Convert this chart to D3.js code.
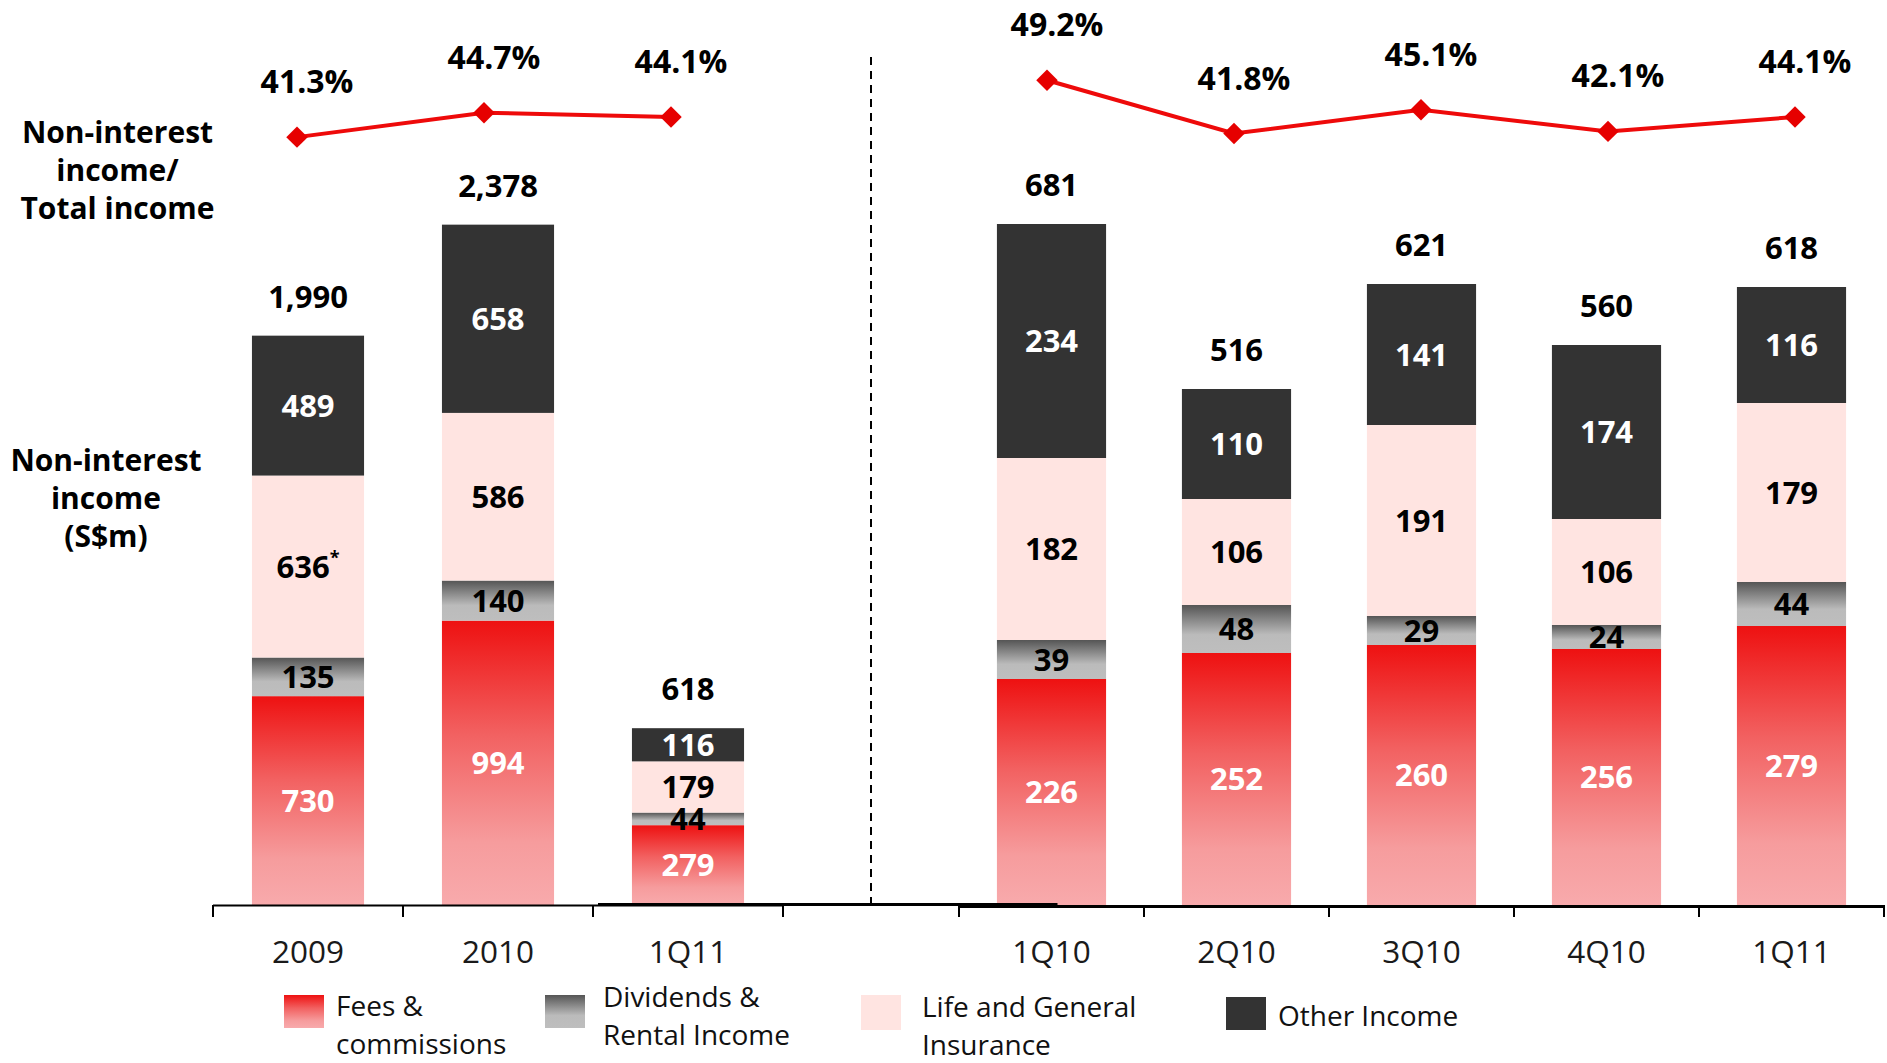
<!DOCTYPE html>
<html><head><meta charset="utf-8">
<script src="https://cdn.jsdelivr.net/npm/d3@7"></script>
<style>
body{margin:0;background:#fff;}
svg{display:block;font-family:"Open Sans","Noto Sans",sans-serif;}
</style></head><body><svg id="c" width="1887" height="1063"></svg>
<script>
// ---------- data ----------
const leftCategories = ["2009", "2010", "1Q11"];
const rightCategories = ["1Q10", "2Q10", "3Q10", "4Q10", "1Q11"];
const seriesNames = ["Fees & commissions", "Dividends & Rental Income", "Life and General Insurance", "Other Income"];
const legendLines = [["Fees &", "commissions"], ["Dividends &", "Rental Income"], ["Life and General", "Insurance"], ["Other Income"]];

const feesLeft = [730, 994, 279];
const dividendsLeft = [135, 140, 44];
const insuranceLeft = [636, 586, 179];
const otherLeft = [489, 658, 116];
const totalsLeft = [1990, 2378, 618];
const ratioLeft = [41.3, 44.7, 44.1];

const feesRight = [226, 252, 260, 256, 279];
const dividendsRight = [39, 48, 29, 24, 44];
const insuranceRight = [182, 106, 191, 106, 179];
const otherRight = [234, 110, 141, 174, 116];
const totalsRight = [681, 516, 621, 560, 618];
const ratioRight = [49.2, 41.8, 45.1, 42.1, 44.1];

const footnoteMarks = { "2009|2": "*" }; // "636*"

// ---------- setup ----------
const svg = d3.select("#c");
const defs = svg.append("defs");
function grad(id, stops) {
  const g = defs.append("linearGradient").attr("id", id).attr("x1", 0).attr("y1", 0).attr("x2", 0).attr("y2", 1);
  stops.forEach(([o, c]) => g.append("stop").attr("offset", o).attr("stop-color", c));
}
grad("gFees", [[0, "#EE1111"], [0.4, "#F26161"], [0.78, "#F69C9D"], [1, "#F8AAAC"]]);
grad("gDiv", [[0, "#555555"], [0.62, "#BBBBBB"], [1, "#BEBEBE"]]);
const fills = ["url(#gFees)", "url(#gDiv)", "#FFE4E1", "#333333"];
const labelColors = ["#ffffff", "#000000", "#000000", "#ffffff"];

const BASE = 905;
const yPct = d3.scaleLinear().domain([40, 50]).range([146.5, 74.5]);
const fmtPct = v => d3.format(".1f")(v) + "%";
const fmtTot = d3.format(",");

function panel(cats, series, totals, ratios, xRange, yMax, yTop, lineRange, axisW, axisY) {
  const x = d3.scaleBand().domain(cats).range(xRange).paddingInner(0.41).paddingOuter(0.205);
  const y = d3.scaleLinear().domain([0, yMax]).range([BASE, yTop]);
  const rows = cats.map((c, i) => { const r = { cat: c }; series.forEach((s, k) => r["s" + k] = s[i]); return r; });
  const keys = series.map((s, k) => "s" + k);
  const stacked = d3.stack().keys(keys)(rows);
  const g = svg.append("g");

  stacked.forEach((layer, k) => {
    g.selectAll(null).data(layer).enter().append("rect")
      .attr("x", d => x(d.data.cat))
      .attr("width", x.bandwidth())
      .attr("y", d => y(d[1]))
      .attr("height", d => y(d[0]) - y(d[1]))
      .attr("fill", fills[k]);
  });
  stacked.forEach((layer, k) => {
    layer.forEach((d, i) => {
      const t = g.append("text")
        .attr("x", x(d.data.cat) + x.bandwidth() / 2)
        .attr("y", (y(d[0]) + y(d[1])) / 2)
        .attr("dy", "0.36em")
        .attr("text-anchor", "middle")
        .attr("font-size", 31).attr("font-weight", 700)
        .attr("fill", labelColors[k]);
      t.append("tspan").text(d.data[keys[k]]);
      const mark = footnoteMarks[d.data.cat + "|" + k];
      if (mark && cats.length === 3) {
        t.append("tspan").attr("font-size", 18).attr("dy", "-0.75em").text(mark);
      }
    });
  });
  // totals
  g.selectAll(null).data(cats).enter().append("text")
    .attr("x", c => x(c) + x.bandwidth() / 2)
    .attr("y", (c, i) => y(totals[i]) - 28)
    .attr("text-anchor", "middle")
    .attr("font-size", 31).attr("font-weight", 700).attr("fill", "#000")
    .text((c, i) => fmtTot(totals[i]));

  // axis
  const [r0, r1] = x.range();
  g.append("line").attr("x1", r0).attr("x2", r1).attr("y1", axisY).attr("y2", axisY)
    .attr("stroke", "#000").attr("stroke-width", axisW);
  d3.range(cats.length + 1).forEach(i => {
    const tx = r0 + i * x.step();
    g.append("line").attr("x1", tx).attr("x2", tx).attr("y1", BASE).attr("y2", BASE + 12)
      .attr("stroke", "#000").attr("stroke-width", 2);
  });
  g.selectAll(null).data(cats).enter().append("text")
    .attr("x", c => x(c) + x.bandwidth() / 2)
    .attr("y", 963)
    .attr("text-anchor", "middle")
    .attr("font-size", 31.5).attr("fill", "#1a1a1a")
    .text(c => c);

  // ratio line
  const xl = d3.scalePoint().domain(cats).range(lineRange);
  const line = d3.line().x((d, i) => xl(cats[i])).y(d => yPct(d));
  g.append("path").attr("d", line(ratios)).attr("fill", "none")
    .attr("stroke", "#EE0A0A").attr("stroke-width", 4);
  const sym = d3.symbol(d3.symbolSquare, 230);
  g.selectAll(null).data(ratios).enter().append("path")
    .attr("d", sym)
    .attr("fill", "#E60000")
    .attr("transform", (d, i) => `translate(${xl(cats[i])},${yPct(d)}) rotate(45)`);
  g.selectAll(null).data(ratios).enter().append("text")
    .attr("x", (d, i) => xl(cats[i]) + 10)
    .attr("y", d => yPct(d) - 44)
    .attr("text-anchor", "middle")
    .attr("font-size", 32).attr("font-weight", 700).attr("fill", "#000")
    .text(d => fmtPct(d));
  return x;
}

const xL = panel(leftCategories, [feesLeft, dividendsLeft, insuranceLeft, otherLeft], totalsLeft, ratioLeft,
  [213, 783], 2500, BASE - 2500 * 0.2861, [297, 671], 2, 905.5);
const xR = panel(rightCategories, [feesRight, dividendsRight, insuranceRight, otherRight], totalsRight, ratioRight,
  [959, 1884], 700, BASE - 700, [1047, 1795], 3, 906.5);

// connecting baseline segment between the two panels
svg.append("line")
  .attr("x1", xL("1Q11") - xL.step() * 0.205 + 5).attr("x2", xR("1Q10") + xR.bandwidth() / 2 + 6)
  .attr("y1", 904.5).attr("y2", 904.5).attr("stroke", "#000").attr("stroke-width", 3);

// dashed divider
svg.append("line").attr("x1", 871).attr("x2", 871).attr("y1", 57).attr("y2", BASE)
  .attr("stroke", "#000").attr("stroke-width", 2).attr("stroke-dasharray", "8,6");

// side titles
function sideTitle(lines, cx, y0) {
  const t = svg.append("text").attr("text-anchor", "middle").attr("font-size", 30)
    .attr("font-weight", 700).attr("fill", "#000");
  lines.forEach((l, i) => t.append("tspan").attr("x", cx).attr("y", y0 + i * 38).text(l));
}
sideTitle(["Non-interest", "income/", "Total income"], 117.5, 143);
sideTitle(["Non-interest", "income", "(S$m)"], 106, 471);

// legend
const legendLayout = [
  { sx: 284, sy: 995, sw: 40, sh: 33, tx: 336, ty: 1016 },
  { sx: 545, sy: 995, sw: 40, sh: 33, tx: 603, ty: 1007 },
  { sx: 861, sy: 995, sw: 40, sh: 35, tx: 922, ty: 1017 },
  { sx: 1226, sy: 997, sw: 40, sh: 33, tx: 1278, ty: 1026 }
];
seriesNames.forEach((name, k) => {
  const L = legendLayout[k];
  const g = svg.append("g").attr("class", "legend-item").attr("data-name", name);
  g.append("rect").attr("x", L.sx).attr("y", L.sy).attr("width", L.sw).attr("height", L.sh).attr("fill", fills[k]);
  const t = g.append("text").attr("font-size", 28).attr("fill", "#111");
  legendLines[k].forEach((l, i) => t.append("tspan").attr("x", L.tx).attr("y", L.ty + i * 38).text(l));
});
</script></body></html>
